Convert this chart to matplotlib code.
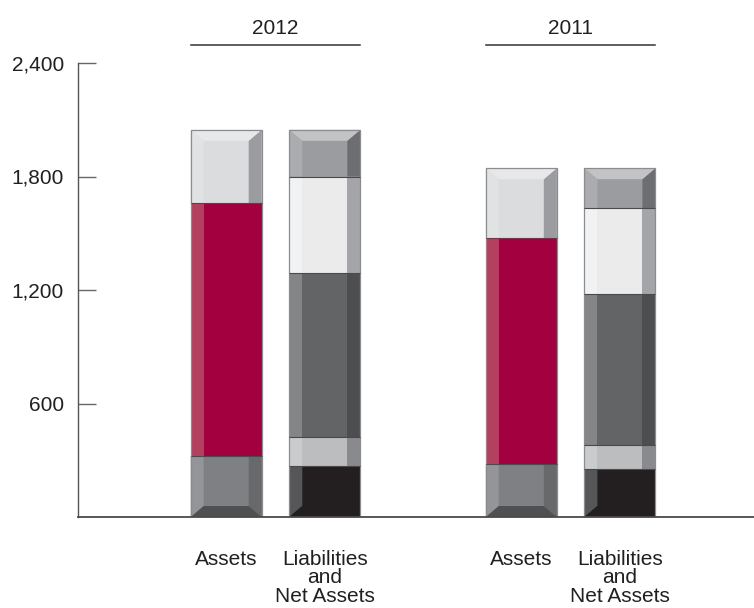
import matplotlib.pyplot as plt
from matplotlib.patches import Polygon

plt.rcParams['font.family'] = ['Liberation Sans', 'DejaVu Sans']

# Balance sheet totals (in millions), stacked bottom to top
years = ['2012', '2011']
bar_labels = ['Assets', 'Liabilities\nand\nNet Assets']
assets = {'2012': [322, 1337, 388], '2011': [280, 1193, 371]}
liabilities = {'2012': [271, 153, 868, 508, 247], '2011': [252, 128, 799, 454, 211]}
yticks = [600, 1200, 1800, 2400]

# segment shades: (left strip, face, right strip, cap bevel)
assets_style = [('#949598', '#7f8083', '#68696b', '#4f5052'),
                ('#b4405f', '#a2003f', '#a2003f', None),
                ('#e1e2e4', '#dbdcde', '#9a9ca0', '#e7e8e9')]
liab_style = [('#565658', '#231f20', '#231f20', '#231f20'),
              ('#cacbcd', '#bcbdbf', '#898a8d', None),
              ('#848587', '#636466', '#4d4e50', None),
              ('#f1f2f3', '#ebebec', '#a4a5a8', None),
              ('#abacaf', '#9b9c9f', '#6d6e71', '#c2c3c5')]

W, H = 754, 608
fig = plt.figure(figsize=(W / 100, H / 100), dpi=100)
y0px, ytop = 517, 63
ax = fig.add_axes([78 / W, (H - y0px) / H, 1 - 78 / W, (y0px - ytop) / H])
ax.set_xlim(78, 754)
ax.set_ylim(0, 2400)
scale = (y0px - ytop) / 2400.0  # pixels per unit

bw = 71      # bar width
bev = 13     # side bevel width
cap = 11 / scale  # cap bevel height in data units
fs = 15


def draw_bar(xc, values, styles):
    x0, x1 = xc - bw / 2, xc + bw / 2
    bottom = 0
    n = len(values)
    for i, (v, st) in enumerate(zip(values, styles)):
        left, face, right, capc = st
        lo, hi = bottom, bottom + v
        is_top, is_bot = i == n - 1, i == 0
        ax.add_patch(Polygon([(x0, lo), (x1, lo), (x1, hi), (x0, hi)],
                             closed=True, fc=face, ec='none'))
        l_lo = lo + cap if is_bot else lo
        l_hi = hi - cap if is_top else hi
        ax.add_patch(Polygon([(x0, lo), (x0 + bev, l_lo), (x0 + bev, l_hi), (x0, hi)],
                             closed=True, fc=left, ec='none'))
        ax.add_patch(Polygon([(x1, lo), (x1 - bev, l_lo), (x1 - bev, l_hi), (x1, hi)],
                             closed=True, fc=right, ec='none'))
        if is_top and capc:
            ax.add_patch(Polygon([(x0, hi), (x1, hi), (x1 - bev, hi - cap), (x0 + bev, hi - cap)],
                                 closed=True, fc=capc, ec='none'))
        if is_bot and capc:
            ax.add_patch(Polygon([(x0, lo), (x1, lo), (x1 - bev, lo + cap), (x0 + bev, lo + cap)],
                                 closed=True, fc=capc, ec='none'))
        if not is_top:
            ax.plot([x0, x1], [hi, hi], color='#4a4a4c', lw=0.8, solid_capstyle='butt')
        bottom = hi
    ax.add_patch(Polygon([(x0, 0), (x1, 0), (x1, bottom), (x0, bottom)],
                         closed=True, fc='none', ec='#8c8c8e', lw=0.9))
    return bottom


group_x = [275.5, 570.6]
offset = 49.3
for year, gx in zip(years, group_x):
    draw_bar(gx - offset, assets[year], assets_style)
    draw_bar(gx + offset, liabilities[year], liab_style)
    # year header with rule beneath
    ax.plot([gx - offset - bw / 2, gx + offset + bw / 2], [(y0px - 45) / scale] * 2,
            color='#333333', lw=1.1, clip_on=False)
    ax.text(gx, (y0px - 29) / scale, year, ha='center', va='center',
            fontsize=fs, color='#231f20', clip_on=False)
    for j, lab in enumerate(bar_labels):
        ax.text(gx + (2 * j - 1) * offset, (y0px - 550) / scale,
                lab, ha='center', va='top', fontsize=fs, color='#231f20',
                linespacing=0.95, multialignment='center', clip_on=False)

for s in ['top', 'right']:
    ax.spines[s].set_visible(False)
ax.spines['left'].set_color('#555555')
ax.spines['bottom'].set_color('#4a4a4a')
ax.spines['left'].set_linewidth(1.0)
ax.spines['bottom'].set_linewidth(1.3)
ax.set_xticks([])
ax.set_yticks(yticks)
ax.set_yticklabels(['{:,}'.format(t) for t in yticks])
ax.tick_params(axis='y', direction='in', length=13, width=1.0, color='#666666',
               pad=10, labelsize=fs, labelcolor='#231f20')

fig.savefig('out.png', dpi=100)
